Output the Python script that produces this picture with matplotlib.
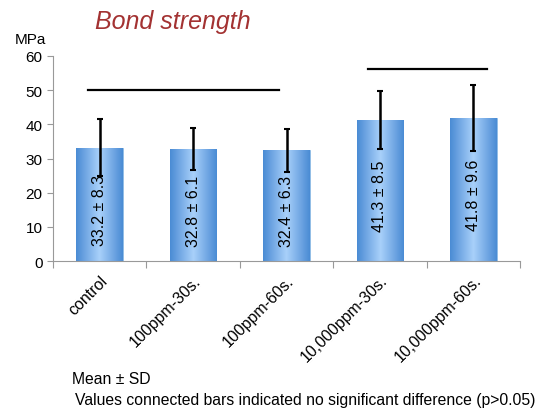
import matplotlib
matplotlib.use("Agg")
import matplotlib.pyplot as plt
import numpy as np
from matplotlib.colors import LinearSegmentedColormap

plt.rcParams["font.family"] = ["Liberation Sans", "DejaVu Sans"]

categories = ["control", "100ppm-30s.", "100ppm-60s.", "10,000ppm-30s.", "10,000ppm-60s."]
means = [33.2, 32.8, 32.4, 41.3, 41.8]
sds = [8.3, 6.1, 6.3, 8.5, 9.6]
labels = ["33.2 ± 8.3", "32.8 ± 6.1", "32.4 ± 6.3", "41.3 ± 8.5", "41.8 ± 9.6"]
# significance groups: (start category, end category, level)
groups = [(0, 2, 50.0), (3, 4, 56.2)]

fig = plt.figure(figsize=(5.42, 4.10), dpi=100)
ax = fig.add_axes([53/542, 1 - 262/410, (520-53)/542, (262-57)/410])

x = np.arange(len(categories))
bars = ax.bar(x, means, width=0.5, color="#5b9bd5", edgecolor="#8fbce6", linewidth=0.6, zorder=2)

cmap = LinearSegmentedColormap.from_list("g", ["#4a8bd4", "#a9d0fa", "#4a8bd4"])
grad = np.linspace(0, 1, 256).reshape(1, -1)
for b in bars:
    x0, y0 = b.get_x(), b.get_y()
    w, h = b.get_width(), b.get_height()
    im = ax.imshow(grad, cmap=cmap, extent=[x0, x0 + w, y0, y0 + h], aspect="auto", zorder=2.5)
    im.set_clip_path(b)

ax.errorbar(x, means, yerr=sds, fmt="none", ecolor="black", elinewidth=1.8, capsize=2.5, capthick=1.5, zorder=3)

for xi, m, lab in zip(x, means, labels):
    ax.text(xi, m / 2 - 1.5 + (m - 33) * 0.02, lab, rotation=90, ha="center", va="center", fontsize=11.5, zorder=4)

for s, e, lvl in groups:
    ax.plot([s - 0.125, e - 0.08 if e == 2 else e + 0.15], [lvl, lvl], color="black", lw=1.6, zorder=4, clip_on=False)

ax.set_xlim(-0.5, len(categories) - 0.5)
ax.set_ylim(0, 60)
ax.set_yticks(range(0, 61, 10))
ax.set_xticks(np.arange(-0.5, len(categories), 1.0))
ax.set_xticklabels([])
ax.set_xticks(x, minor=True)
ax.set_xticklabels(categories, minor=True, rotation=45, ha="right", va="top", fontsize=11.5, rotation_mode="anchor")
ax.tick_params(axis="x", which="minor", length=0, pad=8)
ax.tick_params(axis="x", which="major", length=5, color="#999999")
ax.tick_params(axis="y", length=4, color="#999999", labelsize=11)
for sp in ["top", "right"]:
    ax.spines[sp].set_visible(False)
for sp in ["left", "bottom"]:
    ax.spines[sp].set_color("#999999")
ax.set_facecolor("none")

fig.text(95/542, 1 - 22/410, "Bond strength", fontsize=18, style="italic", color="#a33232", va="center", ha="left")
fig.text(15/542, 1 - 40/410, "MPa", fontsize=11, va="center", ha="left")
fig.text(72/542, 1 - 380/410, "Mean ± SD", fontsize=11.3, va="center", ha="left")
fig.text(75/542, 1 - 401/410, "Values connected bars indicated no significant difference (p>0.05)", fontsize=11.3, va="center", ha="left")

fig.savefig("out.png", dpi=100)
